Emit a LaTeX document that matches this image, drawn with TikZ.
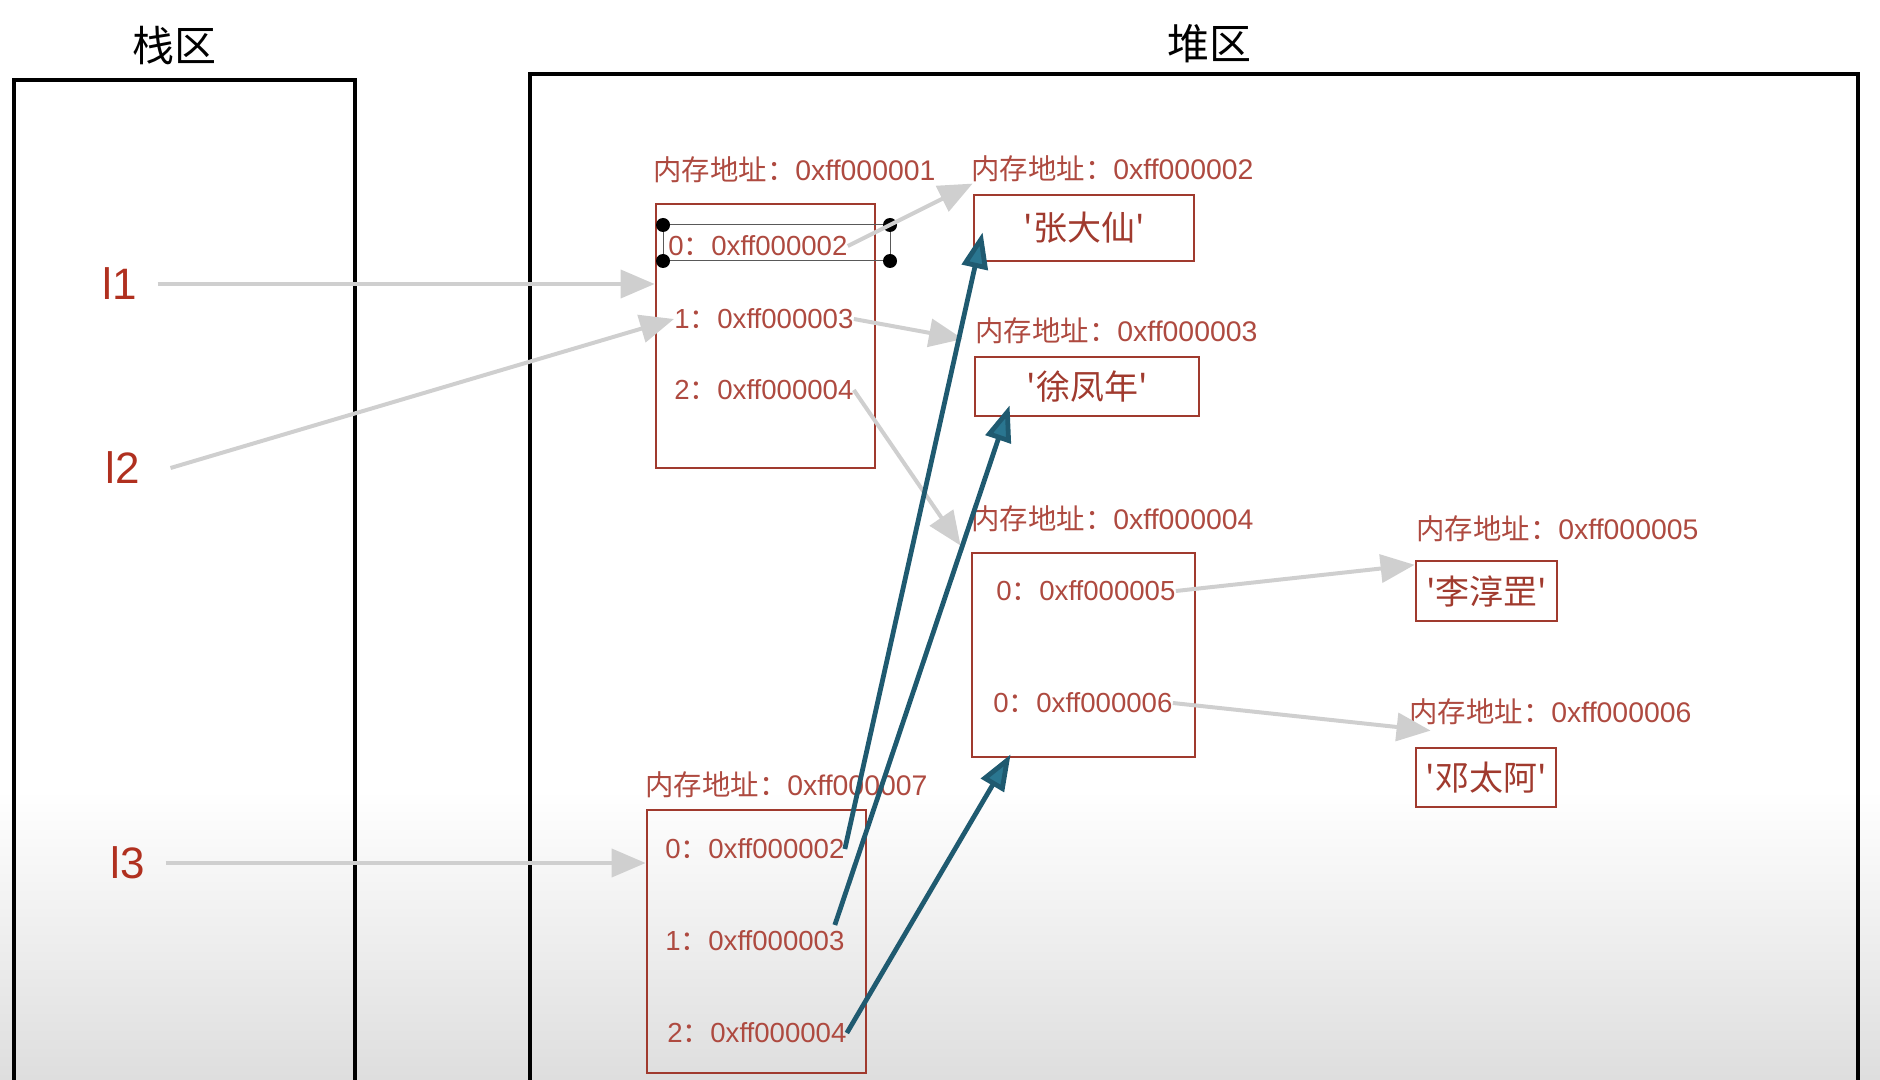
\documentclass[tikz,border=0pt]{standalone}
\usepackage{fontspec}
\setmainfont{Liberation Sans}
\newfontfamily\cjk{Noto Sans CJK SC}
\usetikzlibrary{arrows.meta,positioning}
\usepackage{xcolor}
\definecolor{addrred}{HTML}{AE4A40}
\definecolor{boxred}{HTML}{A03A2E}
\definecolor{varred}{HTML}{B0301F}
\definecolor{ptrgray}{HTML}{CFCFCF}
\definecolor{ptrteal}{HTML}{1F5A70}
\definecolor{headteal}{HTML}{2A7690}
\newcommand{\memaddr}[1]{{\cjk 内存地址：}0xff00000#1}
\newcommand{\slot}[2]{#1{\cjk ：}0xff00000#2}

\begin{document}
\begin{tikzpicture}[x=0.5pt,y=-0.5pt,>=Latex, every node/.style={inner sep=0pt}]
\tikzstyle{region}=[draw=black,line width=2.2pt]
\tikzstyle{title}=[font=\cjk\fontsize{21pt}{24pt}\selectfont]
\tikzstyle{var}=[text=varred,font=\fontsize{22pt}{24pt}\selectfont]
\tikzstyle{mem}=[draw=boxred,line width=1.4pt]
\tikzstyle{addr}=[anchor=west,text=addrred,font=\fontsize{14.2pt}{16pt}\selectfont]
\tikzstyle{entry}=[anchor=west,text=addrred,font=\fontsize{13.8pt}{16pt}\selectfont]
\tikzstyle{val}=[text=boxred,font=\cjk\fontsize{17pt}{19pt}\selectfont]
\tikzstyle{grayptr}=[draw=ptrgray,line width=2pt,-{Triangle[length=17pt,width=14pt]}]
\tikzstyle{tealptr}=[draw=ptrteal,line width=2.4pt,-{Triangle[length=18pt,width=13pt,fill=headteal]}]
\useasboundingbox (0,0) rectangle (1880,1080);
\shade[top color=white,bottom color=black!13] (0,790) rectangle (1880,1080);

\draw[region] (14,1100) -- (14,80) -- (355,80) -- (355,1100);
\draw[region] (530,1100) -- (530,74) -- (1858,74) -- (1858,1100);
\node[title] (stack) at (174,46) {栈区};
\node[title] (heap) at (1209,44) {堆区};

\node[var] (l1) at (120,284) {l1};
\node[var] (l2) at (123,468) {l2};
\node[var] (l3) at (128,863) {l3};

\node[mem,minimum width=109.5pt,minimum height=132pt] (A) at (765.5,336) {};
\node[mem,minimum width=110pt,minimum height=33pt,val] (B) at (1084,228) {'张大仙'};
\node[mem,minimum width=112pt,minimum height=29.5pt,val] (C) at (1087,386.5) {'徐凤年'};
\node[mem,minimum width=111.5pt,minimum height=102pt] (D) at (1083.5,655) {};
\node[mem,minimum width=70.5pt,minimum height=30pt,val] (E) at (1486.5,591) {'李淳罡'};
\node[mem,minimum width=70pt,minimum height=29.5pt,val] (F) at (1486,777.5) {'邓太阿'};
\node[mem,minimum width=109.5pt,minimum height=131.5pt] (G) at (756.5,941.5) {};

\node[addr] (la) at (653,170) {\memaddr{1}};
\node[addr] (lb) at (971,169) {\memaddr{2}};
\node[addr] (lc) at (975,331) {\memaddr{3}};
\node[addr] (ld) at (971,519) {\memaddr{4}};
\node[addr] (le) at (1416,529) {\memaddr{5}};
\node[addr] (lf) at (1409,712) {\memaddr{6}};
\node[addr] (lg) at (645,785) {\memaddr{7}};

\node[entry] (a0) at (668,246) {\slot{0}{2}};
\node[entry] (a1) at (674,319) {\slot{1}{3}};
\node[entry] (a2) at (674,390) {\slot{2}{4}};
\node[entry] (d0) at (996,591) {\slot{0}{5}};
\node[entry] (d1) at (993,703) {\slot{0}{6}};
\node[entry] (g0) at (665,849) {\slot{0}{2}};
\node[entry] (g1) at (665,941) {\slot{1}{3}};
\node[entry] (g2) at (667,1033) {\slot{2}{4}};

\draw[black!65,line width=0.5pt] (663,225) rectangle (890,261);
\foreach \p in {(663,225),(890,225),(663,261),(890,261)}
  \fill[black] \p circle (3.5pt);

\draw[grayptr] (l1.east) ++(20,0) -- (l1 -| A.west);
\draw[grayptr] ([xshift=15pt]l2.east) -- (a1.west);
\draw[grayptr] ([xshift=10pt]l3.east) -- (l3 -| G.west);
\draw[grayptr] (a0.east) -- ([yshift=5pt]B.north west);
\draw[grayptr] (a1.east) -- ([xshift=-6pt,yshift=-4pt]lc.west);
\draw[grayptr] (a2.east) -- ([xshift=-5pt,yshift=3pt]D.north west);
\draw[grayptr] (d0.east) -- (E.160);
\draw[grayptr] (d1.east) -- ([xshift=8pt,yshift=8pt]F.north west);

\draw[tealptr] (g0.east) -- ([xshift=5pt,yshift=15pt]B.south west);
\draw[tealptr] ([xshift=-5pt,yshift=8pt]g1.east) -- ([xshift=18pt,yshift=6pt]C.south west);
\draw[tealptr] (g2.east) -- ([xshift=20pt,yshift=2pt]D.south west);
\end{tikzpicture}
\end{document}
